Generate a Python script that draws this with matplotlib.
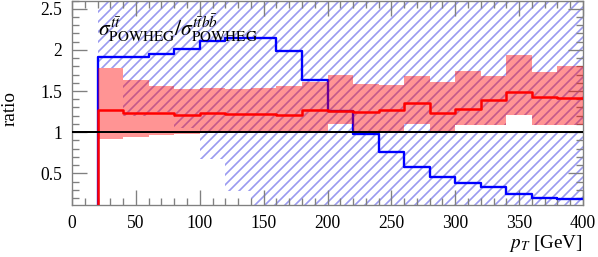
import matplotlib
matplotlib.use("Agg")
import matplotlib.pyplot as plt
import numpy as np

# bin edges in pT [GeV]
pt_edges = [20, 40, 60, 80, 100, 120, 140, 160, 180, 200,
            220, 240, 260, 280, 300, 320, 340, 360, 380, 400]

# red: central ratio and its band
red_mid = [1.27, 1.235, 1.23, 1.21, 1.235, 1.215, 1.215, 1.21, 1.27, 1.26,
           1.25, 1.27, 1.35, 1.235, 1.277, 1.39, 1.487, 1.43, 1.42]
red_hi = [1.774, 1.632, 1.563, 1.53, 1.54, 1.52, 1.54, 1.56, 1.61, 1.69,
          1.59, 1.57, 1.68, 1.61, 1.74, 1.68, 1.94, 1.73, 1.80]
red_lo = [0.92, 0.94, 0.96, 0.98, 0.99, 0.99, 0.99, 0.99, 0.99, 1.10,
          1.0, 1.0, 1.10, 1.0, 1.09, 1.09, 1.21, 1.09, 1.09]

# blue: ratio and lower edge of its hatched band (upper edge off the plot)
blue_mid = [1.915, 1.91, 1.945, 2.015, 2.105, 2.14, 2.14, 1.99, 1.63, 1.26,
            0.98, 0.755, 0.573, 0.46, 0.378, 0.33, 0.25, 0.197, 0.185]
blue_lo = [1.78, 1.2, 1.25, 1.05, 0.68, 0.28, 0.0, 0.0, 0.0, 0.0,
           0.0, 0.0, 0.0, 0.0, 0.0, 0.0, 0.0, 0.0, 0.0]
blue_hi = [3.0] * 19

plt.rcParams['font.family'] = ['Liberation Serif', 'DejaVu Serif']
plt.rcParams['mathtext.fontset'] = 'stix'
plt.rcParams['hatch.linewidth'] = 1.0
plt.rcParams['hatch.color'] = '#9a9af0'

fig = plt.figure(figsize=(598/120, 257/120), dpi=120)
ax = fig.add_axes([72/598, 1-205/257, 511/598, 205/257 - 0.002])

edges = np.array(pt_edges)
def ext(v):
    return np.r_[v, v[-1]]

# hatched band
ax.fill_between(edges, ext(blue_lo), ext(blue_hi), step='post',
                facecolor='none', edgecolor='#9a9af0', hatch='////',
                linewidth=0, zorder=1)
# white gap between 1 and red band lower edge
rl = np.array(red_lo)
ax.fill_between(edges, 1.0, ext(rl), where=ext(rl) > 1.0, step='post',
                facecolor='white', linewidth=0, zorder=1.5)

# blue line
ax.step(np.r_[edges[0], edges], np.r_[0, blue_mid, blue_mid[-1]],
        where='post', color='#0000ff', lw=1.4, zorder=2)

# red band
ax.fill_between(edges, ext(red_lo), ext(red_hi), step='post',
                facecolor='#ff0000', alpha=0.42, linewidth=0, zorder=3)
ax.step(np.r_[edges[0], edges], np.r_[0, red_mid, red_mid[-1]],
        where='post', color='#ff0000', lw=1.5, zorder=4)

ax.axhline(1.0, color='black', lw=1.2, zorder=5)

ax.set_xlim(0, 400)
ax.set_ylim(0.115, 2.6)

ax.set_xticks([0, 50, 100, 150, 200, 250, 300, 350, 400])
ax.set_xticks(np.arange(0, 401, 10), minor=True)
ax.set_yticks([0.5, 1, 1.5, 2, 2.5])
ax.set_yticklabels(['0.5', '1', '1.5', '2', '2.5'])
ax.set_yticks(np.arange(0.2, 2.61, 0.1), minor=True)

ax.tick_params(which='both', direction='in', top=True, right=True,
               color='#808080', width=0.8, labelsize=10.5)
ax.tick_params(which='major', length=9, pad=6)
ax.tick_params(which='minor', length=4)
for s in ax.spines.values():
    s.set_color('#808080')
    s.set_linewidth(0.8)

ax.set_ylabel('ratio', fontsize=11.5)
ax.yaxis.set_label_coords(-0.105, 0.47)
ax.set_xlabel(r'$p_T$ [GeV]', fontsize=11.5)
ax.xaxis.label.set_ha('right')
ax.xaxis.label.set_va('center')
ax.xaxis.set_label_coords(1.0, -0.19)

ax.text(20, 2.27, r'$\sigma^{t\bar{t}}_{\mathrm{POWHEG}}/\sigma^{t\bar{t}b\bar{b}}_{\mathrm{POWHEG}}$',
        fontsize=13, va='center', ha='left', zorder=6)

fig.savefig('out.png', dpi=120)
